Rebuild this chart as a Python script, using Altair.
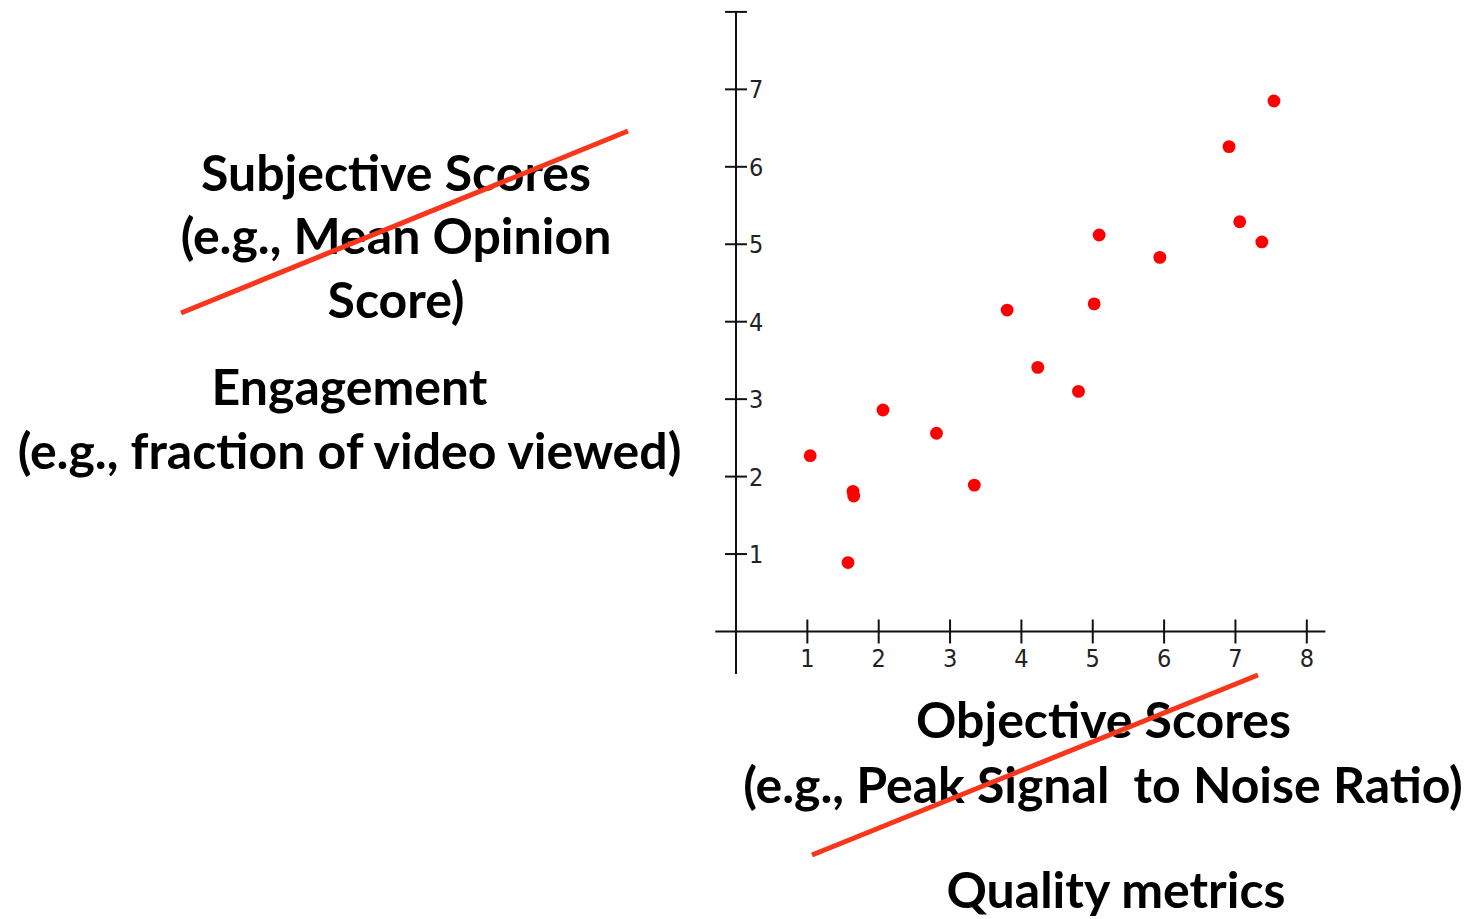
import altair as alt
import pandas as pd

# ---------------- data ----------------
x_values = [1.04, 1.64, 1.65, 1.57, 2.06, 2.81, 3.34, 3.80, 4.23, 4.80, 5.02, 5.09, 5.94, 6.91, 7.06, 7.37, 7.54]
y_values = [2.27, 1.81, 1.75, 0.89, 2.86, 2.56, 1.89, 4.15, 3.41, 3.10, 4.23, 5.12, 4.83, 6.26, 5.29, 5.03, 6.85]

x_ticks = [1, 2, 3, 4, 5, 6, 7, 8]
y_ticks = [1, 2, 3, 4, 5, 6, 7, 8]
y_tick_labels = ["1", "2", "3", "4", "5", "6", "7", ""]
x_tick_labels = ["1", "2", "3", "4", "5", "6", "7", "8"]

block1_lines = ["Subjective Scores", "(e.g., Mean Opinion", "Score)"]
block2_lines = ["Engagement", "(e.g., fraction of video viewed)"]
block3_lines = ["Objective Scores", "(e.g., Peak Signal\u00a0 to Noise Ratio)", "Quality metrics"]

# ---------------- layout ----------------
W, H = 1458, 911
X0, XU = 728.0, 71.35      # pixel of x=0, pixels per unit
Y0, YU = 623.5, 77.45      # pixel of y=0, pixels per unit
xs = alt.Scale(domain=[-X0 / XU, (W - X0) / XU], nice=False, zero=False)
ys = alt.Scale(domain=[(Y0 - H) / YU, Y0 / YU], nice=False, zero=False)

TICK_FONT = "Liberation Sans Narrow, DejaVu Sans Condensed, Liberation Sans, sans-serif"
TEXT_FONT = "Lato"
TEXT_SIZE = 50
STRIKE = "#f9361c"

pts = pd.DataFrame({"x": x_values, "y": y_values})
xt = pd.DataFrame({"v": x_ticks, "lab": x_tick_labels, "lo": -0.155, "hi": 0.155, "zero": 0.0})
yt = pd.DataFrame({"v": y_ticks, "lab": y_tick_labels, "lo": -0.154, "hi": 0.154, "zero": 0.0})
axes_df = pd.DataFrame({"x1": [-0.29, 0.0], "x2": [8.26, 0.0], "y1": [0.0, -0.55], "y2": [0.0, 8.0]})

X = lambda f: alt.X(f, type="quantitative", scale=xs, axis=None)
Y = lambda f: alt.Y(f, type="quantitative", scale=ys, axis=None)

axis_lines = alt.Chart(axes_df).mark_rule(color="#111", strokeWidth=2).encode(
    x=X("x1"), x2="x2", y=Y("y1"), y2="y2")

x_tick_rules = alt.Chart(xt).mark_rule(color="#111", strokeWidth=2).encode(
    x=X("v"), y=Y("lo"), y2="hi")
y_tick_rules = alt.Chart(yt).mark_rule(color="#111", strokeWidth=2).encode(
    y=Y("v"), x=X("lo"), x2="hi")

x_tick_text = alt.Chart(xt).mark_text(
    font=TICK_FONT, fontSize=25, color="#222", align="center", baseline="alphabetic", dy=35
).encode(x=X("v"), y=Y("zero"), text="lab:N")
y_tick_text = alt.Chart(yt).mark_text(
    font=TICK_FONT, fontSize=25, color="#222", align="left", baseline="middle", dx=13, dy=1
).encode(y=Y("v"), x=X("zero"), text="lab:N")

points = alt.Chart(pts).mark_circle(size=165, color="#ff0000", opacity=1).encode(
    x=X("x"), y=Y("y"))

one = alt.Data(values=[{"a": 1}])


def label(text, px, py):
    return alt.Chart(one).mark_text(
        font=TEXT_FONT, fontSize=TEXT_SIZE, fontWeight="bold", color="#000",
        align="center", baseline="alphabetic"
    ).encode(x=alt.value(px), y=alt.value(py), text=alt.value(text))


def strike(x1, y1, x2, y2):
    return alt.Chart(one).mark_rule(color=STRIKE, strokeWidth=5, strokeCap="butt").encode(
        x=alt.value(x1), y=alt.value(y1), x2=alt.value(x2), y2=alt.value(y2))


texts = [
    label(block1_lines[0], 388, 183),
    label(block1_lines[1], 388, 246),
    label(block1_lines[2], 388, 310),
    label(block2_lines[0], 341.5, 397),
    label(block2_lines[1], 341.5, 461),
    label(block3_lines[0], 1095.5, 730),
    label(block3_lines[1], 1095, 795),
    label(block3_lines[2], 1108, 900),
]

chart = alt.layer(
    axis_lines, x_tick_rules, y_tick_rules, x_tick_text, y_tick_text, points,
    *texts,
    strike(173, 305, 620, 123),
    strike(804, 847, 1250, 667),
).properties(
    width=W, height=H, padding=0, background="white",
    autosize=alt.AutoSizeParams(type="none")
).configure_view(stroke=None)

chart.save("out.html", embed_options={"renderer": "svg", "actions": False})
